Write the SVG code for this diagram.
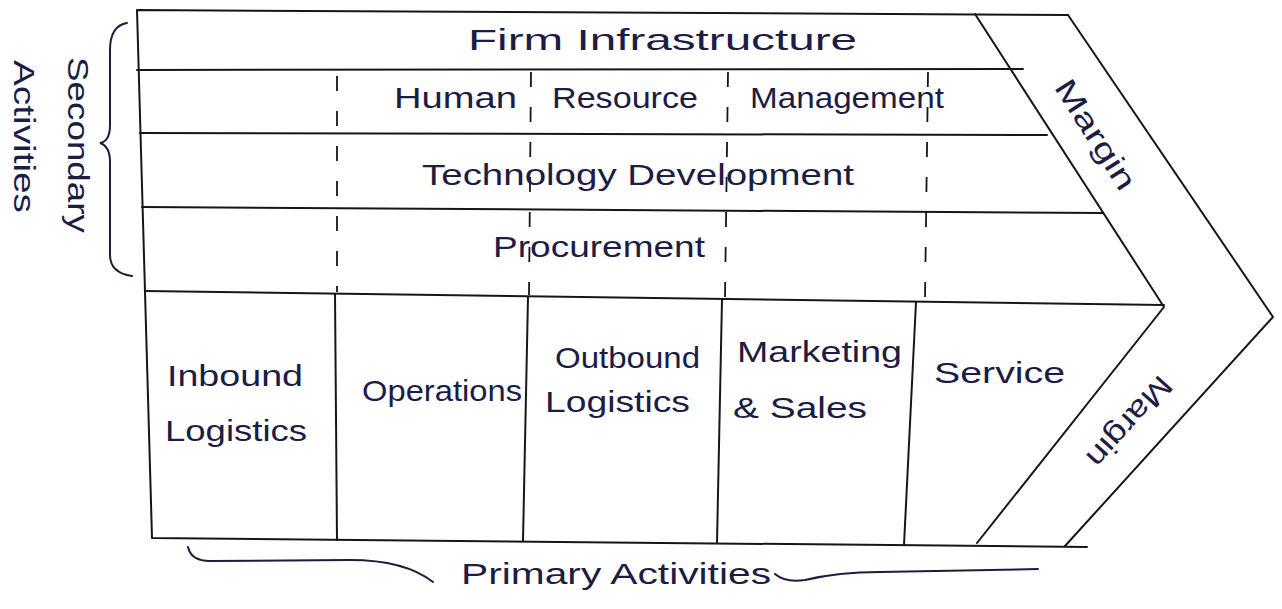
<svg xmlns="http://www.w3.org/2000/svg" width="1282" height="609" viewBox="0 0 1282 609">
  <style>
    .ln { stroke: #161616; stroke-width: 2; fill: none; stroke-linecap: round; stroke-linejoin: round; }
    .dash { stroke: #161616; stroke-width: 1.8; fill: none; stroke-dasharray: 15 20; }
    .brace { stroke: #1c1c3c; stroke-width: 2; fill: none; stroke-linecap: round; }
    text { font-family: "Liberation Sans", "DejaVu Sans", sans-serif; fill: #1c1c44; }
    .lbl { font-size: 30px; }
  </style>
  <rect width="1282" height="609" fill="#ffffff"/>

  <!-- outer frame of the value chain -->
  <g id="frame">
    <polyline class="ln" points="1068,15 137,10 152,538 1087,547"/>
    <!-- inner and outer margin chevrons -->
    <polyline class="ln" points="975,14 1164,307 977,543"/>
    <polyline class="ln" points="1068,15 1273,317 1065,546"/>
  </g>

  <!-- support activity rows and dashed column guides -->
  <g id="support-rows">
    <line class="ln" x1="137" y1="70" x2="1023" y2="69"/>
    <line class="ln" x1="140" y1="133" x2="1047" y2="135"/>
    <line class="ln" x1="142" y1="207" x2="1103" y2="213"/>
    <line class="ln" x1="145" y1="291" x2="1164" y2="305"/>
    <line class="dash" x1="337" y1="76" x2="337" y2="292"/>
    <line class="dash" x1="531" y1="72" x2="529" y2="295"/>
    <line class="dash" x1="728" y1="72" x2="725" y2="297"/>
    <line class="dash" x1="928" y1="72" x2="925" y2="300"/>
  </g>

  <!-- primary activity dividers -->
  <g id="primary-dividers">
    <line class="ln" x1="335" y1="294" x2="337" y2="540"/>
    <line class="ln" x1="528" y1="297" x2="523" y2="541"/>
    <line class="ln" x1="722" y1="299" x2="717" y2="543"/>
    <line class="ln" x1="916" y1="302" x2="904" y2="545"/>
  </g>

  <g id="firm-infrastructure">
    <text class="lbl" x="468" y="50" font-size="32" textLength="389" lengthAdjust="spacingAndGlyphs">Firm Infrastructure</text>
  </g>
  <g id="human-resource-management">
    <text class="lbl" y="108" font-size="29"><tspan x="394" textLength="123" lengthAdjust="spacingAndGlyphs">Human</tspan> <tspan x="552" textLength="146" lengthAdjust="spacingAndGlyphs">Resource</tspan> <tspan x="750" textLength="194" lengthAdjust="spacingAndGlyphs">Management</tspan></text>
  </g>
  <g id="technology-development">
    <text class="lbl" x="422" y="185" font-size="29" textLength="432" lengthAdjust="spacingAndGlyphs">Technology Development</text>
  </g>
  <g id="procurement">
    <text class="lbl" x="493" y="257" font-size="30" textLength="212" lengthAdjust="spacingAndGlyphs">Procurement</text>
  </g>

  <g id="inbound-logistics">
    <text class="lbl" x="167" y="386" textLength="136" lengthAdjust="spacingAndGlyphs">Inbound</text>
    <text class="lbl" x="165" y="441" textLength="142" lengthAdjust="spacingAndGlyphs">Logistics</text>
  </g>
  <g id="operations">
    <text class="lbl" x="362" y="401" textLength="160" lengthAdjust="spacingAndGlyphs">Operations</text>
  </g>
  <g id="outbound-logistics">
    <text class="lbl" x="555" y="368" textLength="145" lengthAdjust="spacingAndGlyphs">Outbound</text>
    <text class="lbl" x="545" y="412" textLength="145" lengthAdjust="spacingAndGlyphs">Logistics</text>
  </g>
  <g id="marketing-sales">
    <text class="lbl" x="737" y="362" textLength="165" lengthAdjust="spacingAndGlyphs">Marketing</text>
    <text class="lbl" x="733" y="418" textLength="134" lengthAdjust="spacingAndGlyphs">&amp; Sales</text>
  </g>
  <g id="service">
    <text class="lbl" x="934" y="383" textLength="131" lengthAdjust="spacingAndGlyphs">Service</text>
  </g>

  <!-- margin labels along the chevron -->
  <g id="margin-upper">
    <text class="lbl" font-size="28" text-anchor="middle" transform="translate(1087,140) rotate(57.5)" textLength="125" lengthAdjust="spacingAndGlyphs">Margin</text>
  </g>
  <g id="margin-lower">
    <text class="lbl" font-size="28" text-anchor="middle" transform="translate(1122,415) rotate(132)" textLength="112" lengthAdjust="spacingAndGlyphs">Margin</text>
  </g>

  <!-- group labels with braces -->
  <g id="secondary-activities">
    <path class="brace" d="M127,23 C115,25 110,35 110,50 L110,125 C110,137 106,142 100,143 C106,145 110,150 110,162 L110,255 C110,268 118,274 132,276"/>
    <text class="lbl" font-size="28" transform="translate(68,57) rotate(90)" textLength="176" lengthAdjust="spacingAndGlyphs">Secondary</text>
    <text class="lbl" font-size="28" transform="translate(14,60) rotate(90)" textLength="153" lengthAdjust="spacingAndGlyphs">Activities</text>
  </g>
  <g id="primary-activities">
    <path class="brace" d="M188,547 C190,556 196,561 210,561 L350,560 C390,560 415,568 433,582"/>
    <path class="brace" d="M775,574 C782,580 792,582 805,580 C830,574 850,572 880,572 L1038,569"/>
    <text class="lbl" x="461" y="584" font-size="28" textLength="310" lengthAdjust="spacingAndGlyphs">Primary Activities</text>
  </g>
</svg>
